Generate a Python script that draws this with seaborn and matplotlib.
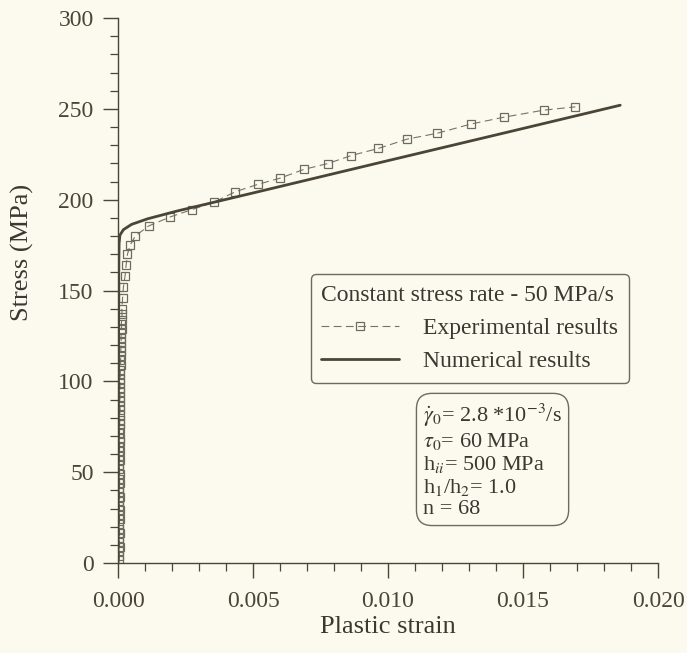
import matplotlib
matplotlib.use("Agg")
import matplotlib.pyplot as plt
import seaborn as sns
from matplotlib.ticker import MultipleLocator, FormatStrFormatter

# ---------------- data ----------------
num_strain = [0.0, 0.00001, 0.00002, 0.00003, 0.00004, 0.00007, 0.0002, 0.0005,
              0.0011, 0.0022, 0.0050, 0.0100, 0.0150, 0.0186]
num_stress = [0.0, 60.0, 120.0, 165.0, 176.0, 180.5, 183.5, 186.4,
              189.5, 193.8, 203.7, 221.5, 239.2, 252.0]

exp_strain = [0.00004, 0.00005, 0.00004, 0.00006, 0.00005, 0.00004, 0.00006, 0.00005,
              0.00004, 0.00006, 0.00005, 0.00006, 0.00004, 0.00005, 0.00006, 0.00005,
              0.00004, 0.00006, 0.00005, 0.00006, 0.00005, 0.00004, 0.00006, 0.00005,
              0.00006, 0.00005, 0.00007, 0.00006, 0.00005, 0.00007, 0.00006, 0.00007,
              0.00006, 0.00008, 0.00007, 0.00006, 0.00008, 0.00007, 0.00008, 0.00007,
              0.00009, 0.00008, 0.00009, 0.0001, 0.00009, 0.00011, 0.00010, 0.00011,
              0.00012, 0.00011, 0.00012, 0.00013, 0.00012, 0.00014, 0.00015, 0.00014,
              0.00017, 0.0002, 0.00026, 0.0003, 0.00035, 0.00045, 0.00064, 0.00113,
              0.00193, 0.00273, 0.00356, 0.00435, 0.00519, 0.00599, 0.00689, 0.00777,
              0.00864, 0.00964, 0.0107, 0.01183, 0.01306, 0.01429, 0.01577, 0.01694]
exp_stress = [1.5, 4.0, 6.5, 9.0, 11.5, 14.0, 16.5, 19.0,
              21.5, 24.0, 26.5, 29.0, 31.5, 34.0, 36.5, 39.0,
              41.5, 44.0, 46.5, 49.0, 51.5, 54.0, 56.5, 59.0,
              61.5, 64.0, 66.5, 69.0, 71.5, 74.0, 76.5, 79.0,
              81.5, 84.0, 86.5, 89.0, 91.5, 94.0, 96.5, 99.0,
              101.5, 104.0, 106.5, 109.0, 111.5, 114.0, 116.5, 119.0,
              121.5, 124.0, 126.5, 129.0, 131.5, 134.0, 137.0, 140.0,
              146.0, 152.0, 158.0, 164.0, 170.0, 175.0, 180.0, 185.5,
              190.5, 194.5, 198.7, 204.4, 208.5, 211.8, 216.7, 219.9,
              224.3, 228.2, 233.3, 236.6, 241.6, 245.4, 249.3, 251.1]

legend_title = "Constant stress rate - 50 MPa/s"
exp_label = "Experimental results"
num_label = "Numerical results"
param_lines = [r"$\dot{\gamma}_0$= 2.8 *10$^{-3}$/s",
               r"$\tau_0$= 60 MPa",
               r"h$_{ii}$= 500 MPa",
               r"h$_1$/h$_2$= 1.0",
               r"n = 68"]

# ---------------- style ----------------
bg = "#fcf9ee"
ink = "#4a4536"
txt = "#3b3831"
grey = "#6e6a5f"

sns.set_theme(style="white")
plt.rcParams["font.family"] = ["Liberation Serif", "DejaVu Serif"]
plt.rcParams["mathtext.fontset"] = "stix"
plt.rcParams["text.color"] = txt
plt.rcParams["axes.labelcolor"] = txt
plt.rcParams["xtick.color"] = ink
plt.rcParams["ytick.color"] = ink

fig = plt.figure(figsize=(6.87, 6.53), dpi=100, facecolor=bg)
ax = fig.add_axes([0.1718, 0.1378, 0.7860, 0.8346], facecolor=bg)

sns.lineplot(x=exp_strain, y=exp_stress, ax=ax, sort=False, estimator=None,
             color="#77736a", linewidth=0.8, linestyle=(0, (7, 4)),
             marker="s", markersize=5.5, markerfacecolor="none",
             markeredgecolor=grey, markeredgewidth=0.9, label=exp_label)
sns.lineplot(x=num_strain, y=num_stress, ax=ax, sort=False, estimator=None,
             color=ink, linewidth=2.0, label=num_label)

ax.set_xlim(0, 0.020)
ax.set_ylim(0, 300)
ax.xaxis.set_major_locator(MultipleLocator(0.005))
ax.xaxis.set_minor_locator(MultipleLocator(0.001))
ax.yaxis.set_major_locator(MultipleLocator(50))
ax.yaxis.set_minor_locator(MultipleLocator(10))
ax.xaxis.set_major_formatter(FormatStrFormatter("%.3f"))

for s in ["top", "right"]:
    ax.spines[s].set_visible(False)
for s in ["left", "bottom"]:
    ax.spines[s].set_color(ink)
    ax.spines[s].set_linewidth(1.0)

ax.tick_params(which="major", direction="out", length=10.5, width=1.0,
               labelsize=17, pad=7, left=True, bottom=True)
ax.tick_params(which="minor", direction="out", length=5.5, width=0.9,
               left=True, bottom=True)
ax.tick_params(axis="x", which="major", pad=10)

ax.set_xlabel("Plastic strain", fontsize=19)
ax.set_ylabel("Stress (MPa)", fontsize=19)
ax.xaxis.set_label_coords(0.50, -0.098)
ax.yaxis.set_label_coords(-0.155, 0.57)

leg = ax.legend(title=legend_title, loc="upper left",
                bbox_to_anchor=(0.357, 0.530), borderaxespad=0,
                fontsize=17, title_fontsize=17, frameon=True,
                fancybox=True, handlelength=3.3, handletextpad=1.0,
                borderpad=0.45, labelspacing=0.5, alignment="left")
frame = leg.get_frame()
frame.set_facecolor(bg)
frame.set_edgecolor(grey)
frame.set_linewidth(1.0)
frame.set_alpha(1.0)
for t in leg.get_texts():
    t.set_color(txt)
leg.get_title().set_color(txt)

ax.text(0.565, 0.295, "\n".join(param_lines), transform=ax.transAxes,
        ha="left", va="top", fontsize=16, color=txt, linespacing=1.12,
        bbox=dict(boxstyle="round,pad=0.3,rounding_size=0.7",
                  facecolor=bg, edgecolor=grey, linewidth=1.0))

fig.savefig("out.png", dpi=100, facecolor=bg)
